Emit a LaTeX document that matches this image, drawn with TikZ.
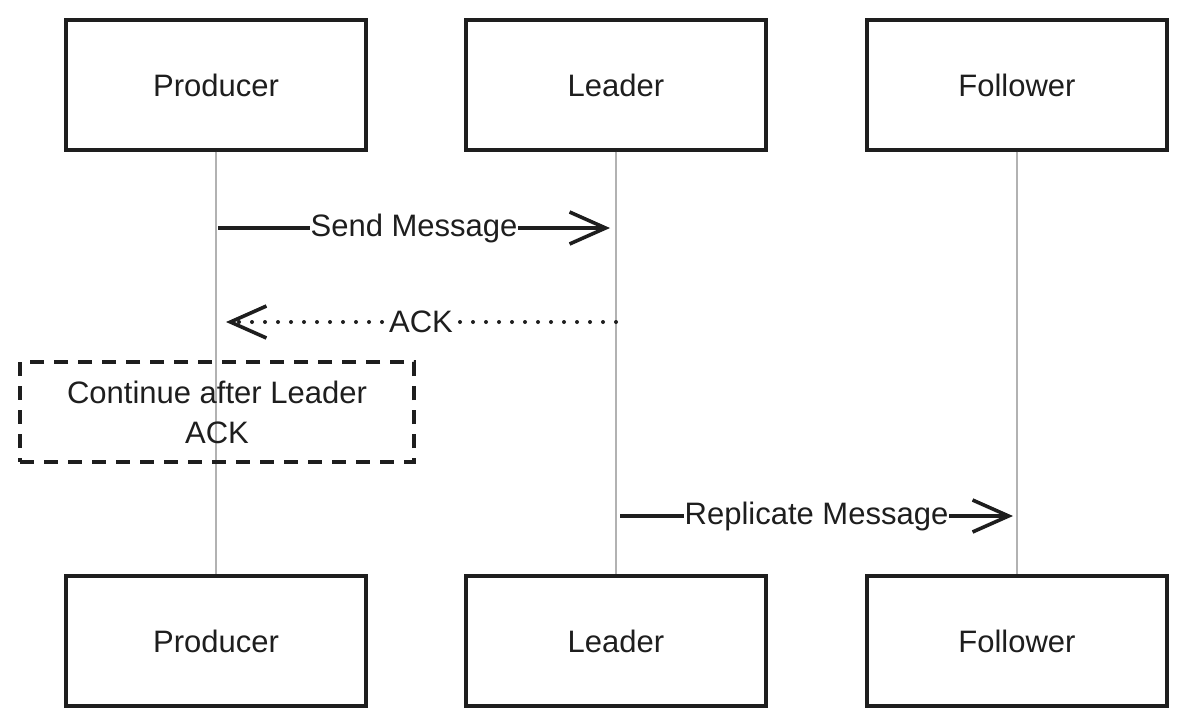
\documentclass[tikz,border=0pt]{standalone}
\usepackage{fontspec}
\setmainfont{Liberation Sans}
\usetikzlibrary{arrows.meta,positioning}

\definecolor{ink}{HTML}{1E1E1E}
\begin{document}
\begin{tikzpicture}[x=1pt, y=-1pt, font=\fontsize{31}{40}\selectfont, color=ink,
  actor/.style={draw, line width=3.2pt, minimum width=300pt, minimum height=130pt, inner sep=0pt},
  life/.style={draw=gray!60, line width=1.6pt},
  msg/.style={-{Straight Barb[length=36pt, width=32pt, line width=3.6pt]}, line width=3.6pt},
  reply/.style={-{Straight Barb[length=36pt, width=32pt, line width=3.6pt]}, line width=4pt, dash pattern=on 0pt off 13pt, line cap=round},
  lab/.style={fill=white, inner sep=1pt},
  note/.style={draw, line width=3.2pt, dash pattern=on 14pt off 10pt, minimum width=394pt, minimum height=100pt, align=center}]
\useasboundingbox (0,0) rectangle (1187,726);
% participants
\node[actor] (prodT) at (216,85) {Producer};
\node[actor] (leadT) at (616,85) {Leader};
\node[actor] (follT) at (1017,85) {Follower};
\node[actor] (prodB) at (216,641) {Producer};
\node[actor] (leadB) at (616,641) {Leader};
\node[actor] (follB) at (1017,641) {Follower};
% lifelines
\draw[life] (prodT) -- (prodB);
\draw[life] (leadT) -- (leadB);
\draw[life] (follT) -- (follB);
% messages
\coordinate (s1) at (218,228);
\coordinate (s2) at (610,228);
\draw[msg] (s1) -- node[lab]{Send Message} (s2);
\coordinate (a1) at (616,322);
\coordinate (a2) at (226,322);
\draw[reply] (a1) -- node[lab]{ACK} (a2);
\node[note] (wait) at (217,412) {Continue after Leader\\ACK};
\coordinate (r1) at (620,516);
\coordinate (r2) at (1013,516);
\draw[msg] (r1) -- node[lab]{Replicate Message} (r2);
\end{tikzpicture}
\end{document}
